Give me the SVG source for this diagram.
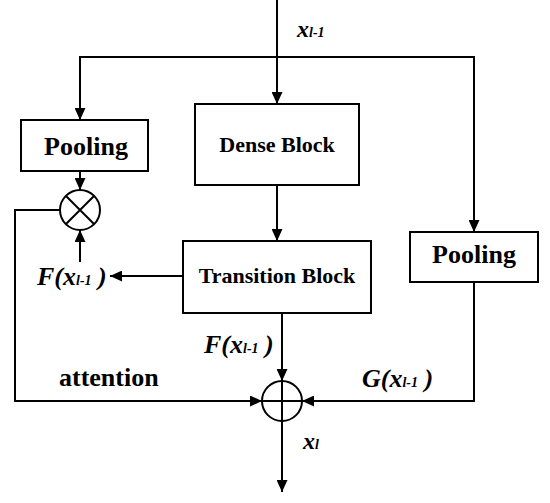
<svg xmlns="http://www.w3.org/2000/svg" width="550" height="503" viewBox="0 0 550 503">
<style>
.box{fill:#fff;stroke:#000;stroke-width:2}
.ln{fill:none;stroke:#000;stroke-width:2}
.arr{fill:none;stroke:#000;stroke-width:2;marker-end:url(#ah)}
.t{font-family:"Liberation Serif","Times New Roman",serif;font-weight:bold;fill:#000}
.blk{font-size:22px;text-anchor:middle}
.pool{font-size:26px;text-anchor:middle}
.it{font-style:italic}
</style>
<defs>
<marker id="ah" markerUnits="userSpaceOnUse" markerWidth="13" markerHeight="11" refX="12" refY="5.5" orient="auto" viewBox="0 0 13 11">
<path d="M0,0 L12,5.5 L0,11 z" fill="#000"/>
</marker>
</defs>
<rect width="550" height="503" fill="#fff"/>
<g id="connectors">
<path class="arr" d="M277,0 V104"/>
<path class="arr" d="M277,57 H80 V120"/>
<path class="arr" d="M277,57 H474 V232"/>
<path class="arr" d="M80,171 V190"/>
<path class="arr" d="M277,185 V241"/>
<path class="arr" d="M183,276 H110"/>
<path class="arr" d="M80,262 V230"/>
<path class="arr" d="M60,210 H15 V401 H262"/>
<path class="arr" d="M282,313 V381"/>
<path class="arr" d="M474,282 V401 H302"/>
<path class="arr" d="M282,421 V492"/>
</g>
<g id="pool-left">
<rect class="box" x="21" y="120" width="127" height="51"/>
<text class="t pool" x="86" y="155">Pooling</text>
</g>
<g id="dense">
<rect class="box" x="195" y="104" width="164" height="81"/>
<text class="t blk" x="277" y="152">Dense Block</text>
</g>
<g id="transition">
<rect class="box" x="183" y="241" width="188" height="72"/>
<text class="t blk" x="277" y="283">Transition Block</text>
</g>
<g id="pool-right">
<rect class="box" x="410" y="232" width="128" height="50"/>
<text class="t pool" x="474" y="263">Pooling</text>
</g>
<g id="mult">
<circle cx="80" cy="210" r="20" fill="#fff" stroke="#000" stroke-width="2"/>
<path class="ln" d="M66,196 L94,224 M94,196 L66,224"/>
</g>
<g id="add">
<circle cx="282" cy="401" r="20" fill="#fff" stroke="#000" stroke-width="2"/>
<path class="ln" d="M262,401 H302 M282,381 V421"/>
</g>
<g id="labels">
<text class="t it" x="297" y="37"><tspan font-size="24">x</tspan><tspan font-size="14">l-1</tspan></text>
<text class="t it" x="37" y="285"><tspan font-size="26">F(x</tspan><tspan font-size="14">l-1</tspan><tspan font-size="26"> )</tspan></text>
<text class="t it" x="204" y="353"><tspan font-size="26">F(x</tspan><tspan font-size="14">l-1</tspan><tspan font-size="26"> )</tspan></text>
<text class="t it" x="362" y="387"><tspan font-size="26">G(x</tspan><tspan font-size="14">l-1</tspan><tspan font-size="26"> )</tspan></text>
<text class="t it" x="303" y="449"><tspan font-size="24">x</tspan><tspan font-size="14">l</tspan></text>
<text class="t" x="59" y="386" font-size="26">attention</text>
</g>
</svg>
